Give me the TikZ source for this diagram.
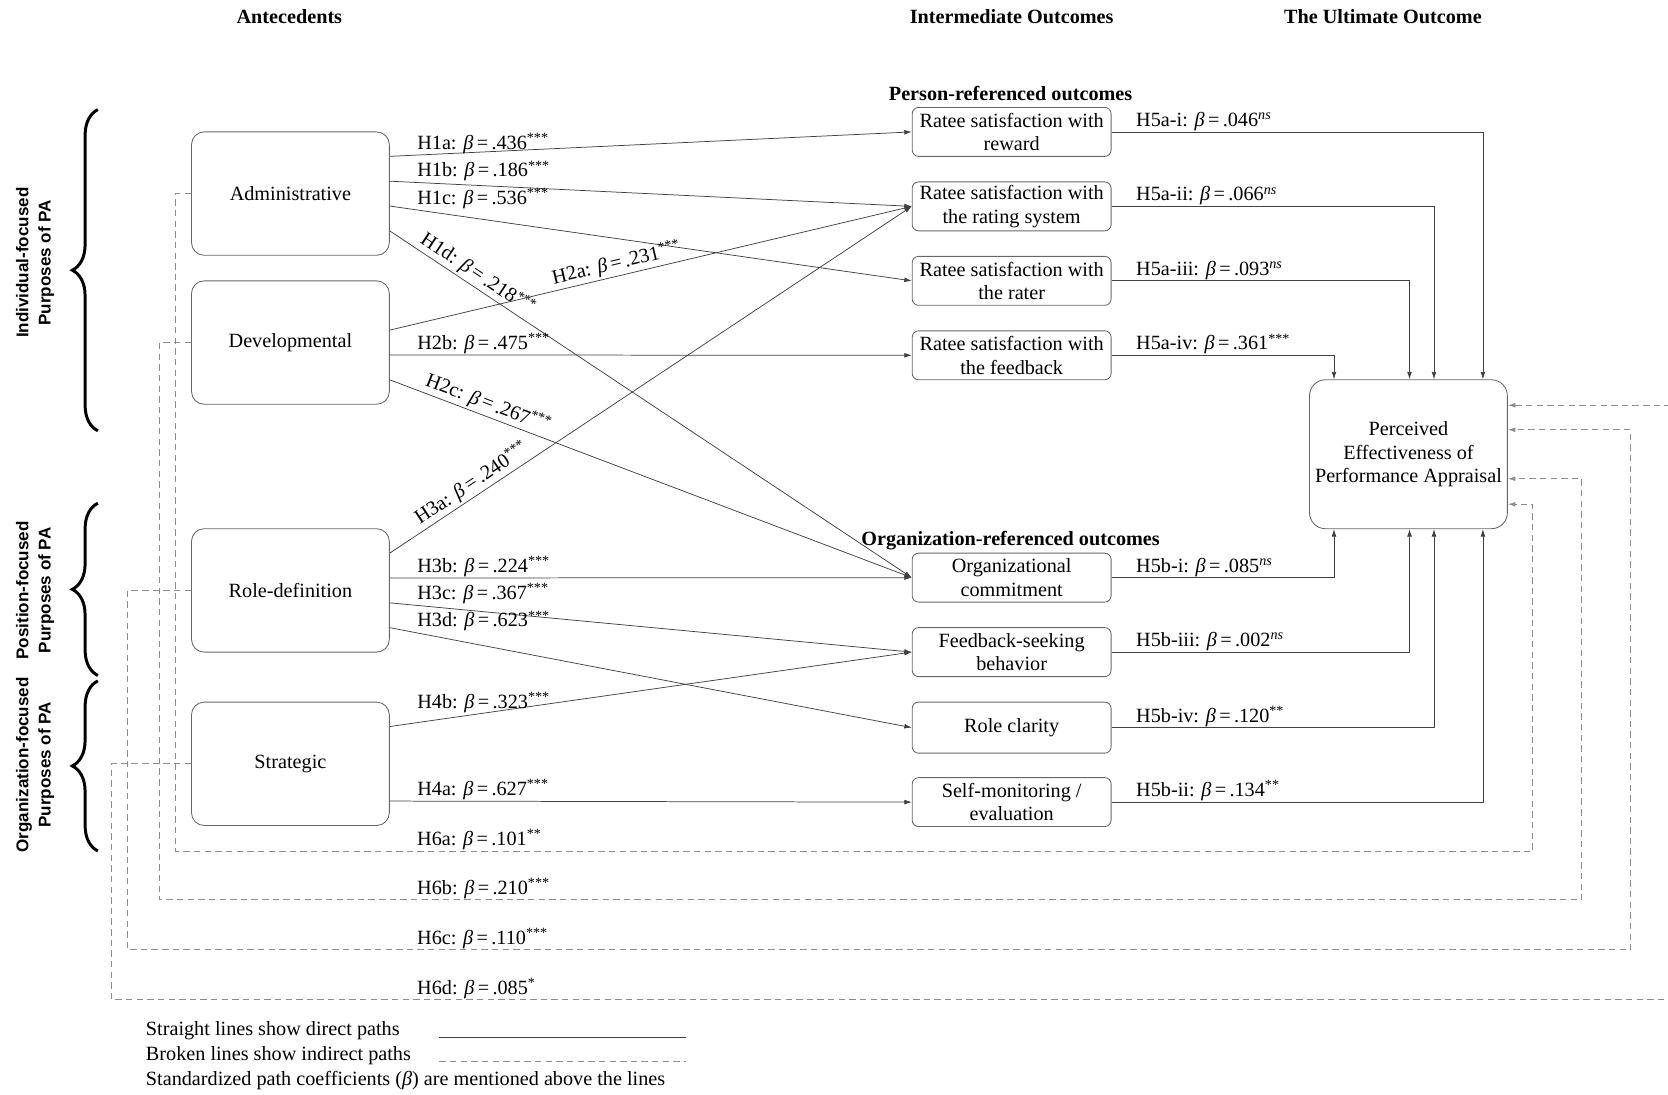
\documentclass[tikz,border=0pt]{standalone}
\usepackage{fontspec}
\setmainfont{Liberation Serif}
\newfontfamily\grpfont{Liberation Sans}
\usetikzlibrary{arrows.meta,calc,decorations.pathreplacing}
\newcommand{\hypc}[3]{#1: \textit{β}\,=\,#2\textsuperscript{#3}}

\begin{document}
\begin{tikzpicture}[x=1pt,y=-1pt,
    font=\fontsize{19}{22}\selectfont,
    ante/.style={draw=black!60,line width=0.8pt,rounded corners=12pt,minimum width=186pt,minimum height=116pt},
    outc/.style={draw=black!60,line width=0.8pt,rounded corners=6pt,minimum width=187pt,minimum height=46pt,align=center,inner sep=1pt},
    dpath/.style={draw=black!75,line width=0.7pt,-{Latex[length=7pt,width=4.5pt]}},
    ipath/.style={draw=black!45,line width=0.9pt,dash pattern=on 6pt off 4pt,-{Latex[length=7pt,width=4.5pt]}},
    coef/.style={inner sep=1pt,anchor=south west},
    slab/.style={sloped,above,inner sep=2pt},
    hdr/.style={font=\fontsize{19}{22}\selectfont\bfseries},
    grp/.style={font=\fontsize{16}{21}\selectfont\grpfont\bfseries,rotate=90,align=center},
    brc/.style={decorate,decoration={brace,amplitude=24pt},line width=2.8pt}]
    \useasboundingbox (0,0) rectangle (1568,1029);

    % headings
    \node[hdr] (hant) at (272,16) {Antecedents};
    \node[hdr] (hint) at (951,16) {Intermediate Outcomes};
    \node[hdr] (hult) at (1300,16) {The Ultimate Outcome};
    \node[hdr] (hper) at (950,88) {Person-referenced outcomes};
    \node[hdr] (horg) at (950,508) {Organization-referenced outcomes};

    % purposes of PA
    \draw[brc] (92,405) -- (92,103);
    \draw[brc] (92,635) -- (92,473);
    \draw[brc] (92,800) -- (92,640);
    \node[grp] (gind) at (33,247) {Individual-focused\\Purposes of PA};
    \node[grp] (gpos) at (33,555) {Position-focused\\Purposes of PA};
    \node[grp] (gorg) at (33,719) {Organization-focused\\Purposes of PA};

    \node[ante] (adm) at (273,182) {Administrative};
    \node[ante] (dev) at (273,322) {Developmental};
    \node[ante] (rol) at (273,555) {Role-definition};
    \node[ante] (stg) at (273,718) {Strategic};

    \node[outc] (rew) at (951,124) {Ratee satisfaction with\\reward};
    \node[outc] (rsy) at (951,194) {Ratee satisfaction with\\the rating system};
    \node[outc] (rtr) at (951,264) {Ratee satisfaction with\\the rater};
    \node[outc] (fbk) at (951,334) {Ratee satisfaction with\\the feedback};
    \node[outc] (com) at (951,543) {Organizational\\commitment};
    \node[outc] (fsb) at (951,613) {Feedback-seeking\\behavior};
    \node[outc,minimum height=48pt] (rcl) at (951,684) {Role clarity};
    \node[outc] (smo) at (951,754) {Self-monitoring /\\evaluation};

    \node[draw=black!60,line width=0.8pt,rounded corners=15pt,minimum width=186pt,minimum height=140pt,align=center] (pe) at (1324,427) {Perceived\\Effectiveness of\\Performance Appraisal};

    % direct paths
    \draw[dpath] ($(adm.north east)!.2!(adm.south east)$) -- node[coef,pos=.05] {\hypc{H1a}{.436}{***}} (rew.west);
    \draw[dpath] ($(adm.north east)!.4!(adm.south east)$) -- node[coef,pos=.05] {\hypc{H1b}{.186}{***}} (rsy.west);
    \draw[dpath] ($(adm.north east)!.6!(adm.south east)$) -- node[coef,pos=.05] {\hypc{H1c}{.536}{***}} (rtr.west);
    \draw[dpath] ($(adm.north east)!.8!(adm.south east)$) -- node[slab,pos=.155] {\hypc{H1d}{.218}{***}} (com.west);
    \draw[dpath] ($(dev.north east)!.4!(dev.south east)$) -- node[slab,pos=.44] {\hypc{H2a}{.231}{***}} (rsy.west);
    \draw[dpath] ($(dev.north east)!.6!(dev.south east)$) -- node[coef,pos=.05] {\hypc{H2b}{.475}{***}} (fbk.west);
    \draw[dpath] ($(dev.north east)!.8!(dev.south east)$) -- node[slab,pos=.18] {\hypc{H2c}{.267}{***}} (com.west);
    \draw[dpath] ($(rol.north east)!.2!(rol.south east)$) -- node[slab,pos=.17] {\hypc{H3a}{.240}{***}} (rsy.west);
    \draw[dpath] ($(rol.north east)!.4!(rol.south east)$) -- node[coef,pos=.05] {\hypc{H3b}{.224}{***}} (com.west);
    \draw[dpath] ($(rol.north east)!.6!(rol.south east)$) -- node[coef,pos=.05] {\hypc{H3c}{.367}{***}} (fsb.west);
    \draw[dpath] ($(rol.north east)!.8!(rol.south east)$) -- node[coef,pos=.05] {\hypc{H3d}{.623}{***}} (rcl.west);
    \draw[dpath] ($(stg.north east)!.2!(stg.south east)$) -- node[coef,pos=.05,yshift=8pt] {\hypc{H4b}{.323}{***}} (fsb.west);
    \draw[dpath] ($(stg.north east)!.8!(stg.south east)$) -- node[coef,pos=.05] {\hypc{H4a}{.627}{***}} (smo.west);

    % outcomes to perceived effectiveness
    \draw[dpath] (rew.east) -| ([xshift=70]pe.north);
    \draw[dpath] (rsy.east) -| ([xshift=24]pe.north);
    \draw[dpath] (rtr.east) -| ([xshift=1]pe.north);
    \draw[dpath] (fbk.east) -| ([xshift=-70]pe.north);
    \draw[dpath] (com.east) -| ([xshift=-70]pe.south);
    \draw[dpath] (fsb.east) -| ([xshift=1]pe.south);
    \draw[dpath] (rcl.east) -| ([xshift=24]pe.south);
    \draw[dpath] (smo.east) -| ([xshift=70]pe.south);
    \node[coef] at ([xshift=22]rew.east) {\hypc{H5a-i}{.046}{\textit{ns}}};
    \node[coef] at ([xshift=22]rsy.east) {\hypc{H5a-ii}{.066}{\textit{ns}}};
    \node[coef] at ([xshift=22]rtr.east) {\hypc{H5a-iii}{.093}{\textit{ns}}};
    \node[coef] at ([xshift=22]fbk.east) {\hypc{H5a-iv}{.361}{***}};
    \node[coef] at ([xshift=22]com.east) {\hypc{H5b-i}{.085}{\textit{ns}}};
    \node[coef] at ([xshift=22]fsb.east) {\hypc{H5b-iii}{.002}{\textit{ns}}};
    \node[coef] at ([xshift=22]rcl.east) {\hypc{H5b-iv}{.120}{**}};
    \node[coef] at ([xshift=22]smo.east) {\hypc{H5b-ii}{.134}{**}};

    % indirect paths
    \draw[ipath] (adm.west) -| (165,800) -| (1441,474) -- ([yshift=-47]pe.east);
    \draw[ipath] (dev.west) -| (150,846) -| (1487,450) -- ([yshift=-23]pe.east);
    \draw[ipath] (rol.west) -| (120,893) -| (1533,404) -- ([yshift=23]pe.east);
    \draw[ipath] (stg.west) -| (105,940) -| (1590,381) -- ([yshift=46]pe.east);
    \node[coef] at (391,800) {\hypc{H6a}{.101}{**}};
    \node[coef] at (391,846) {\hypc{H6b}{.210}{***}};
    \node[coef] at (391,893) {\hypc{H6c}{.110}{***}};
    \node[coef] at (391,940) {\hypc{H6d}{.085}{*}};

    % legend
    \node[anchor=west,inner sep=0pt] (lg1) at (137,969) {Straight lines show direct paths};
    \node[anchor=west,inner sep=0pt] (lg2) at (137,992) {Broken lines show indirect paths};
    \node[anchor=west,inner sep=0pt] (lg3) at (137,1016) {Standardized path coefficients (\textit{β}) are mentioned above the lines};
    \draw[black!75,line width=0.7pt] (413,975) -- (645,975);
    \draw[black!45,line width=0.9pt,dash pattern=on 6pt off 4pt] (413,998) -- (645,998);
\end{tikzpicture}
\end{document}
